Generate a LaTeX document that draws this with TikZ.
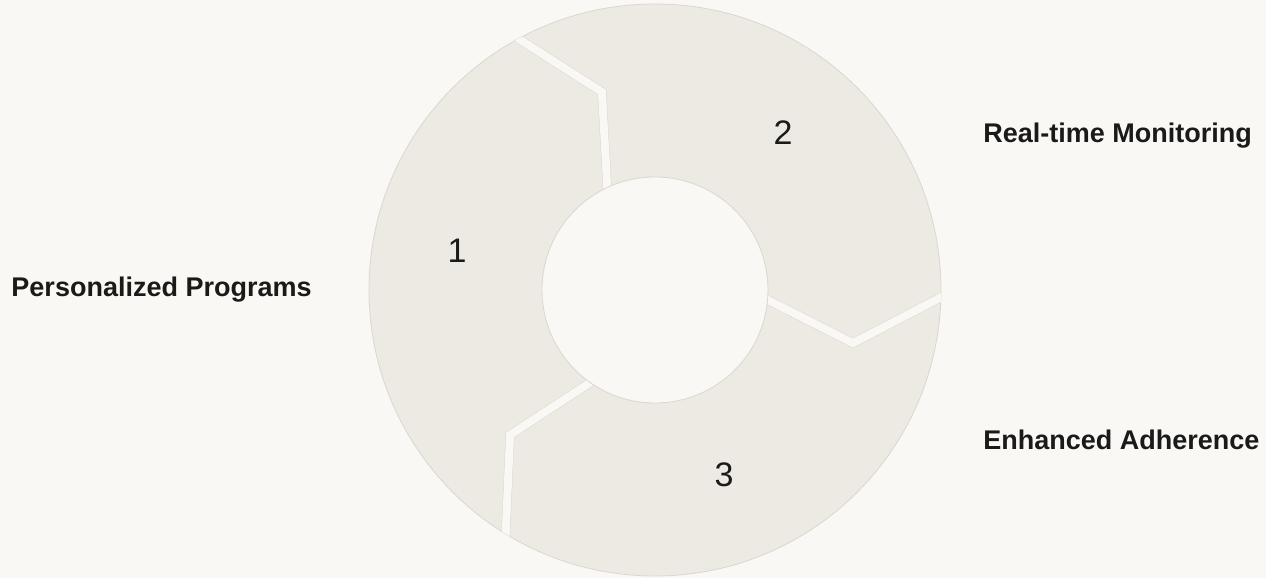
\documentclass[tikz,border=0pt]{standalone}
\usepackage{fontspec}
\setmainfont{Liberation Sans}
\definecolor{PageBg}{RGB}{249,248,245}
\definecolor{RingFill}{RGB}{237,234,228}
\definecolor{RingEdge}{RGB}{218,215,208}
\definecolor{LabelInk}{RGB}{26,26,24}
\usepackage{tikz}

\begin{document}
\begin{tikzpicture}[x=0.5pt, y=0.5pt,
  steplabel/.style={font=\fontsize{13.5}{16}\selectfont\bfseries, text=LabelInk, inner sep=0pt},
  stepnum/.style={font=\fontsize{17}{20}\selectfont, text=LabelInk, inner sep=0pt, anchor=base}]
  \fill[PageBg] (-655,-288) rectangle (611,290);
  \useasboundingbox (-655,-288) rectangle (611,290);
  \coordinate (c) at (0,0);
  % ring
  \fill[RingFill, draw=RingEdge, line width=0.4pt] (c) circle (286);
  % gaps between the three steps
  \begin{scope}
    \clip (c) circle (286);
    \foreach \a [count=\i] in {120,0,240} {
      \coordinate (g\i o) at (\a:300);
      \coordinate (g\i t) at (\a-15:205);
      \coordinate (g\i i) at (\a-2:100);
      \draw[RingEdge, line width=4.5pt] (g\i o) -- (g\i t) -- (g\i i);
      \draw[PageBg, line width=4pt] (g\i o) -- (g\i t) -- (g\i i);
    }
  \end{scope}
  \fill[PageBg, draw=RingEdge, line width=0.4pt] (c) circle (113);
  % step numbers
  \node[stepnum] (n1) at (-198,27) {1};
  \node[stepnum] (n2) at (128,145) {2};
  \node[stepnum] (n3) at (69,-197) {3};
  % labels
  \node[steplabel, anchor=base east] (l1) at (-343,-7) {Personalized Programs};
  \node[steplabel, anchor=base west] (l2) at (328,147) {Real-time Monitoring};
  \node[steplabel, anchor=base west] (l3) at (328,-160) {Enhanced Adherence};
\end{tikzpicture}
\end{document}
